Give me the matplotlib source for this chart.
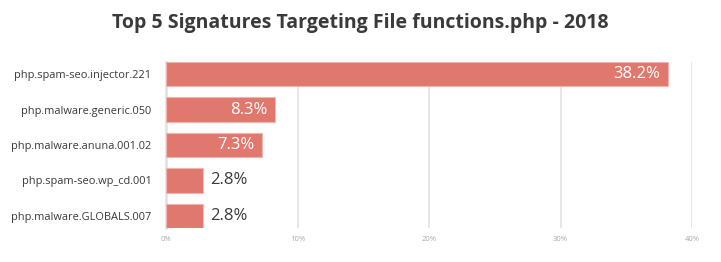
import matplotlib.pyplot as plt

plt.rcParams['font.family'] = ['Open Sans', 'DejaVu Sans']

# === Data ===
signatures = [
    "php.spam-seo.injector.221",
    "php.malware.generic.050",
    "php.malware.anuna.001.02",
    "php.spam-seo.wp_cd.001",
    "php.malware.GLOBALS.007",
]
shares = [38.2, 8.3, 7.3, 2.8, 2.8]
ticks = [0, 10, 20, 30, 40]
tick_labels = ["0%", "10%", "20%", "30%", "40%"]

BAR_COLOR = "#e0786e"
TEXT_DARK = "#3a3a3a"

fig = plt.figure(figsize=(7.21, 2.62), dpi=100)
ax = fig.add_axes([166 / 721, 1 - 228 / 262, (692 - 166) / 721, 166 / 262])

ypos = list(range(len(signatures)))
ax.barh(ypos, shares, height=0.68, color=BAR_COLOR, edgecolor="#f0b5ae",
        linewidth=0.8, zorder=3)

# value labels: white inside long bars, dark beside short ones
for y, v in zip(ypos, shares):
    label = f"{v}%"
    if v > 5:
        ax.text(v - 0.6, y, label, ha="right", va="center", color="white",
                fontsize=12, zorder=4)
    else:
        ax.text(v + 0.55, y, label, ha="left", va="center", color=TEXT_DARK,
                fontsize=12, zorder=4)

ax.set_xlim(0, 40)
ax.set_ylim(len(signatures) - 0.66, -0.34)
ax.set_yticks(ypos)
ax.set_yticklabels(signatures, fontsize=7.9, color=TEXT_DARK)
ax.set_xticks(ticks)
ax.set_xticklabels(tick_labels, fontsize=5.5, color="#aaaaaa")
ax.tick_params(axis="both", length=0)
ax.tick_params(axis="y", pad=10.5)
ax.tick_params(axis="x", pad=6)

ax.grid(axis="x", color="#e3e3e3", linewidth=1.2, zorder=0)
for s in ["top", "right", "bottom"]:
    ax.spines[s].set_visible(False)
ax.spines["left"].set_color("#e3e3e3")
ax.spines["left"].set_linewidth(2)

fig.text(0.5, 1 - 23 / 262, "Top 5 Signatures Targeting File functions.php - 2018",
         ha="center", va="center", fontsize=14, fontweight="bold", color=TEXT_DARK)

fig.savefig("out.png", dpi=100)
